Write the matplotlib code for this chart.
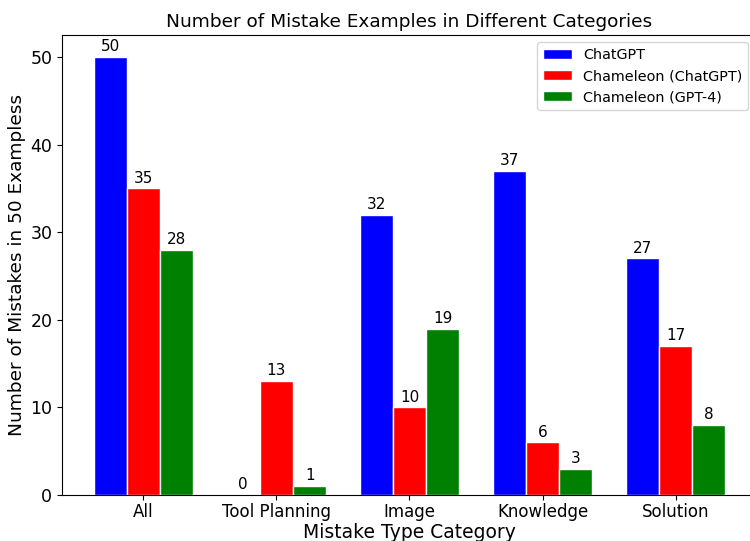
import matplotlib
matplotlib.use("Agg")
import matplotlib.pyplot as plt
import numpy as np

categories = ["All", "Tool Planning", "Image", "Knowledge", "Solution"]
series_names = ["ChatGPT", "Chameleon (ChatGPT)", "Chameleon (GPT-4)"]
chatgpt = [50, 0, 32, 37, 27]
cham_chatgpt = [35, 13, 10, 6, 17]
cham_gpt4 = [28, 1, 19, 3, 8]
colors = ["blue", "red", "green"]

fig = plt.figure(figsize=(7.5, 5.41), dpi=100)
ax = fig.add_axes([62/750, 46/541, 695/750, 460/541])

x = np.arange(len(categories))
w = 0.25
for i, (vals, name, c) in enumerate(zip([chatgpt, cham_chatgpt, cham_gpt4], series_names, colors)):
    bars = ax.bar(x + (i - 1) * w, vals, w, label=name, color=c, edgecolor="white")
    ax.bar_label(bars, padding=2, fontsize=11)

ax.set_xticks(x)
ax.set_xticklabels(categories, fontsize=12)
ax.tick_params(axis="y", labelsize=12.5)
ax.tick_params(axis="x", pad=2.5)
ax.set_xlabel("Mistake Type Category", fontsize=13.5, labelpad=1)
ax.set_ylabel("Number of Mistakes in 50 Exampless", fontsize=13.3, labelpad=3)
ax.set_title("Number of Mistake Examples in Different Categories", fontsize=13.3)
ax.legend(loc="upper right", fontsize=10.4, bbox_to_anchor=(0.998, 1.0))
ax.set_ylim(0, 52.5)

fig.savefig("out.png", dpi=100)
